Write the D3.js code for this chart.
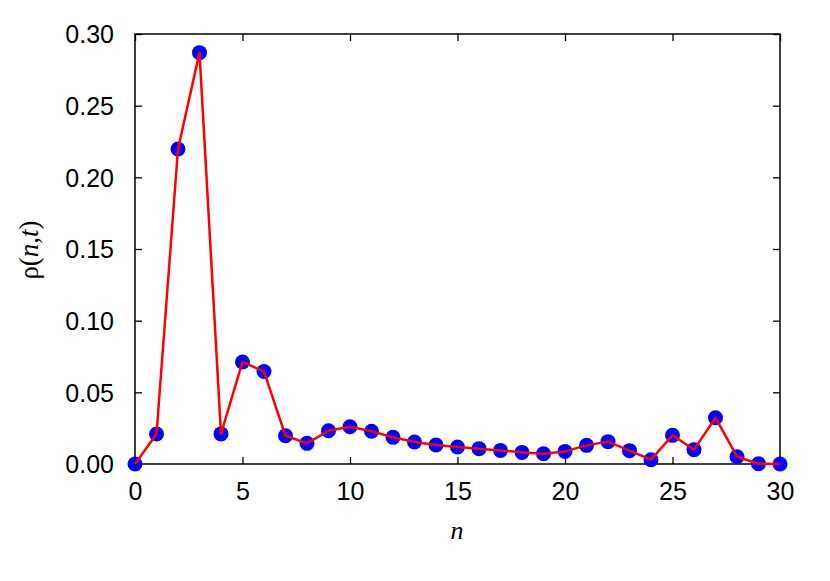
<!DOCTYPE html>
<html><head><meta charset="utf-8">
<script src="https://cdn.jsdelivr.net/npm/d3@7"></script>
<style>body{margin:0;background:#fff}</style>
</head><body>
<svg id="c" width="830" height="581"></svg>
<script>
const nValues = [0,1,2,3,4,5,6,7,8,9,10,11,12,13,14,15,16,17,18,19,20,21,22,23,24,25,26,27,28,29,30];
const rhoValues = [0.0,0.0209,0.2198,0.2870,0.0210,0.0712,0.0645,0.0197,0.0144,0.0232,0.0260,0.0228,0.0186,0.0153,0.0133,0.0119,0.0107,0.0095,0.0081,0.0072,0.0088,0.0130,0.0156,0.0093,0.0030,0.0200,0.0100,0.0323,0.0051,0.0002,0.0];
const xTicks = [0,5,10,15,20,25,30];
const yTicks = [0,0.05,0.10,0.15,0.20,0.25,0.30];

const svg = d3.select("#c");
const L=135, R=780, T=34, B=464;
const x = d3.scaleLinear().domain([0,30]).range([L,R]);
const y = d3.scaleLinear().domain([0,0.30]).range([B,T]);
const tickLen = 7;
const font = "'Liberation Sans', Arial, sans-serif";

const gx = svg.append("g").attr("transform",`translate(0,${B})`)
  .call(d3.axisBottom(x).tickValues(xTicks).tickSizeInner(-tickLen).tickSizeOuter(0).tickPadding(18).tickFormat(d3.format("d")));
const gxt = svg.append("g").attr("transform",`translate(0,${T})`)
  .call(d3.axisTop(x).tickValues(xTicks).tickSizeInner(-tickLen).tickSizeOuter(0).tickFormat(""));
const gy = svg.append("g").attr("transform",`translate(${L},0)`)
  .call(d3.axisLeft(y).tickValues(yTicks).tickSizeInner(-tickLen).tickSizeOuter(0).tickPadding(21).tickFormat(d3.format(".2f")));
const gyr = svg.append("g").attr("transform",`translate(${R},0)`)
  .call(d3.axisRight(y).tickValues(yTicks).tickSizeInner(-tickLen).tickSizeOuter(0).tickFormat(""));
[gx,gxt,gy,gyr].forEach(g=>{
  g.select(".domain").remove();
  g.selectAll(".tick line").attr("stroke","#000").attr("stroke-width",1.3);
  g.selectAll(".tick text").attr("font-family",font).attr("font-size",25).attr("fill","#000");
});
gx.selectAll(".tick text").attr("dy","0.71em");
gy.selectAll(".tick text").attr("dy","0.35em");

// frame
svg.append("rect").attr("x",L).attr("y",T).attr("width",R-L).attr("height",B-T)
  .attr("fill","none").attr("stroke","#000").attr("stroke-width",1.5);

// points
svg.append("g").selectAll("circle").data(nValues).join("circle")
  .attr("cx",(d)=>x(d)).attr("cy",(d,i)=>y(rhoValues[i])).attr("r",7.5).attr("fill","#0000ff");

// line drawn above points
svg.append("path")
  .datum(nValues.map((n,i)=>[n,rhoValues[i]]))
  .attr("fill","none").attr("stroke","#ff0000").attr("stroke-width",2.5).attr("stroke-linejoin","round")
  .attr("d", d3.line().x(d=>x(d[0])).y(d=>y(d[1])));

// axis labels
const serif = "'Liberation Serif', 'Times New Roman', serif";
svg.append("text").attr("x",457).attr("y",539).attr("text-anchor","middle")
  .attr("font-family",serif).attr("font-size",26).attr("font-style","italic").text("n");
const yl = svg.append("text").attr("transform","translate(38,250) rotate(-90)").attr("text-anchor","middle")
  .attr("font-family",serif).attr("font-size",27);
yl.append("tspan").text("ρ(");
yl.append("tspan").attr("font-style","italic").text("n");
yl.append("tspan").text(",");
yl.append("tspan").attr("font-style","italic").text("t");
yl.append("tspan").text(")");
</script>
</body></html>
